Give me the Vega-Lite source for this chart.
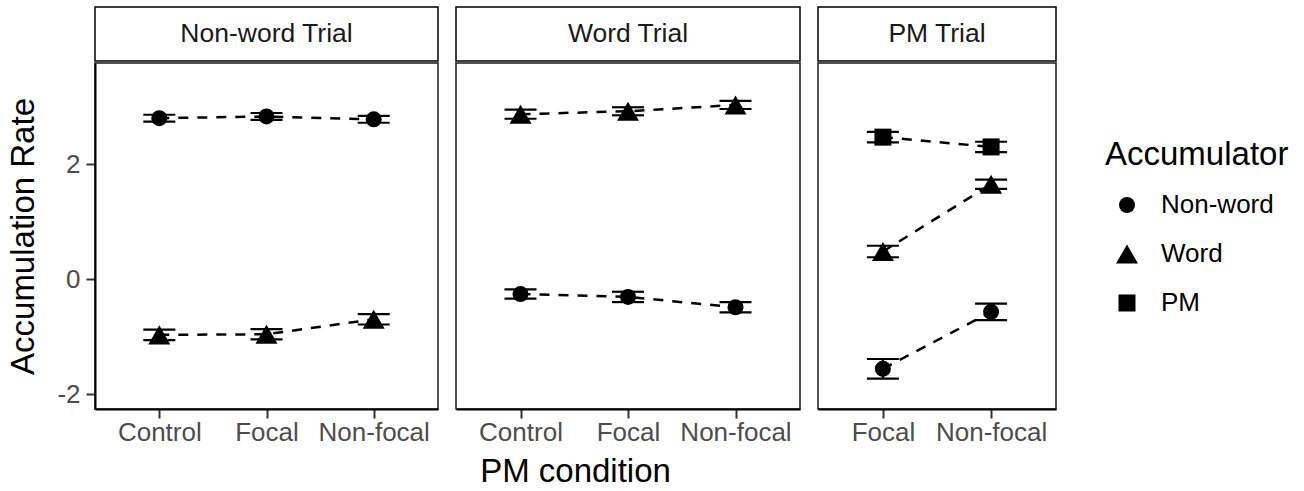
{
  "$schema": "https://vega.github.io/schema/vega-lite/v6.json",
  "padding": {"left": 7, "top": 6, "right": 5, "bottom": 5},
  "background": "white",
  "datasets": {
    "rates": [
      {"Trial": "Non-word Trial", "Condition": "Control", "Accumulator": "Non-word", "Rate": 2.80, "Err": 0.06},
      {"Trial": "Non-word Trial", "Condition": "Focal", "Accumulator": "Non-word", "Rate": 2.83, "Err": 0.06},
      {"Trial": "Non-word Trial", "Condition": "Non-focal", "Accumulator": "Non-word", "Rate": 2.78, "Err": 0.06},
      {"Trial": "Non-word Trial", "Condition": "Control", "Accumulator": "Word", "Rate": -0.97, "Err": 0.09},
      {"Trial": "Non-word Trial", "Condition": "Focal", "Accumulator": "Word", "Rate": -0.96, "Err": 0.09},
      {"Trial": "Non-word Trial", "Condition": "Non-focal", "Accumulator": "Word", "Rate": -0.70, "Err": 0.09},
      {"Trial": "Word Trial", "Condition": "Control", "Accumulator": "Word", "Rate": 2.87, "Err": 0.08},
      {"Trial": "Word Trial", "Condition": "Focal", "Accumulator": "Word", "Rate": 2.92, "Err": 0.07},
      {"Trial": "Word Trial", "Condition": "Non-focal", "Accumulator": "Word", "Rate": 3.03, "Err": 0.07},
      {"Trial": "Word Trial", "Condition": "Control", "Accumulator": "Non-word", "Rate": -0.26, "Err": 0.08},
      {"Trial": "Word Trial", "Condition": "Focal", "Accumulator": "Non-word", "Rate": -0.31, "Err": 0.09},
      {"Trial": "Word Trial", "Condition": "Non-focal", "Accumulator": "Non-word", "Rate": -0.49, "Err": 0.09},
      {"Trial": "PM Trial", "Condition": "Focal", "Accumulator": "PM", "Rate": 2.47, "Err": 0.09},
      {"Trial": "PM Trial", "Condition": "Non-focal", "Accumulator": "PM", "Rate": 2.30, "Err": 0.09},
      {"Trial": "PM Trial", "Condition": "Focal", "Accumulator": "Word", "Rate": 0.48, "Err": 0.10},
      {"Trial": "PM Trial", "Condition": "Non-focal", "Accumulator": "Word", "Rate": 1.65, "Err": 0.08},
      {"Trial": "PM Trial", "Condition": "Focal", "Accumulator": "Non-word", "Rate": -1.56, "Err": 0.17},
      {"Trial": "PM Trial", "Condition": "Non-focal", "Accumulator": "Non-word", "Rate": -0.57, "Err": 0.145}
    ],
    "trials": [
      {"Trial": "Non-word Trial"},
      {"Trial": "Word Trial"},
      {"Trial": "PM Trial"}
    ]
  },
  "hconcat": [
    {
      "spacing": 0,
      "vconcat": [
        {
          "width": 343, "height": 54,
          "data": {"name": "trials"},
          "transform": [{"filter": "datum.Trial === 'Non-word Trial'"}],
          "layer": [
            {"mark": {"type": "rect", "fill": "white", "stroke": "black", "strokeWidth": 1.5}, "encoding": {}},
            {"mark": {"type": "text", "fontSize": 26.5, "color": "#1a1a1a"}, "encoding": {"text": {"field": "Trial", "type": "nominal"}}}
          ]
        },
        {
          "width": 343, "height": 346,
          "data": {"name": "rates"},
          "transform": [{"filter": "datum.Trial === 'Non-word Trial'"}],
          "encoding": {
            "x": {"field": "Condition", "type": "nominal", "scale": {"type": "point", "padding": 0.6, "domain": ["Control", "Focal", "Non-focal"]}, "title": null},
            "y": {"field": "Rate", "type": "quantitative", "scale": {"domain": [-2.26, 3.76], "nice": false, "zero": false}, "title": "Accumulation Rate", "axis": {"values": [-2, 0, 2], "labelExpr": "toString(datum.value)", "titlePadding": 16}}
          },
          "layer": [
            {"mark": {"type": "line", "color": "black", "strokeWidth": 2.5, "strokeDash": [10, 9]}, "encoding": {"detail": {"field": "Accumulator", "type": "nominal"}}},
            {"mark": {"type": "errorbar", "color": "black", "ticks": {"opacity": 1, "color": "black"}, "size": 32, "thickness": 2.2, "rule": {"strokeWidth": 2.2}}, "encoding": {"yError": {"field": "Err"}, "detail": {"field": "Accumulator", "type": "nominal"}}},
            {"mark": {"type": "point", "filled": true, "color": "black", "opacity": 1, "strokeWidth": 0},
             "encoding": {
               "shape": {"field": "Accumulator", "type": "nominal", "scale": {"domain": ["Non-word", "Word", "PM"], "range": ["circle", "triangle-up", "square"]}, "title": "Accumulator"},
               "size": {"field": "Accumulator", "type": "nominal", "scale": {"type": "ordinal", "domain": ["Non-word", "Word", "PM"], "range": [256, 484, 289]}, "title": "Accumulator"}
             }}
          ]
        }
      ]
    },
    {
      "spacing": 0,
      "vconcat": [
        {
          "width": 344, "height": 54,
          "data": {"name": "trials"},
          "transform": [{"filter": "datum.Trial === 'Word Trial'"}],
          "layer": [
            {"mark": {"type": "rect", "fill": "white", "stroke": "black", "strokeWidth": 1.5}, "encoding": {}},
            {"mark": {"type": "text", "fontSize": 26.5, "color": "#1a1a1a"}, "encoding": {"text": {"field": "Trial", "type": "nominal"}}}
          ]
        },
        {
          "width": 344, "height": 346,
          "data": {"name": "rates"},
          "transform": [{"filter": "datum.Trial === 'Word Trial'"}],
          "encoding": {
            "x": {"field": "Condition", "type": "nominal", "scale": {"type": "point", "padding": 0.6, "domain": ["Control", "Focal", "Non-focal"]}, "title": "PM condition", "axis": {"titleX": 119, "titleAnchor": "middle", "titlePadding": 10}},
            "y": {"field": "Rate", "type": "quantitative", "scale": {"domain": [-2.26, 3.76], "nice": false, "zero": false}, "axis": null}
          },
          "layer": [
            {"mark": {"type": "line", "color": "black", "strokeWidth": 2.5, "strokeDash": [10, 9]}, "encoding": {"detail": {"field": "Accumulator", "type": "nominal"}}},
            {"mark": {"type": "errorbar", "color": "black", "ticks": {"opacity": 1, "color": "black"}, "size": 32, "thickness": 2.2, "rule": {"strokeWidth": 2.2}}, "encoding": {"yError": {"field": "Err"}, "detail": {"field": "Accumulator", "type": "nominal"}}},
            {"mark": {"type": "point", "filled": true, "color": "black", "opacity": 1, "strokeWidth": 0},
             "encoding": {
               "shape": {"field": "Accumulator", "type": "nominal", "scale": {"domain": ["Non-word", "Word", "PM"], "range": ["circle", "triangle-up", "square"]}, "title": "Accumulator"},
               "size": {"field": "Accumulator", "type": "nominal", "scale": {"type": "ordinal", "domain": ["Non-word", "Word", "PM"], "range": [256, 484, 289]}, "title": "Accumulator"}
             }}
          ]
        }
      ]
    },
    {
      "spacing": 0,
      "vconcat": [
        {
          "width": 238, "height": 54,
          "data": {"name": "trials"},
          "transform": [{"filter": "datum.Trial === 'PM Trial'"}],
          "layer": [
            {"mark": {"type": "rect", "fill": "white", "stroke": "black", "strokeWidth": 1.5}, "encoding": {}},
            {"mark": {"type": "text", "fontSize": 26.5, "color": "#1a1a1a"}, "encoding": {"text": {"field": "Trial", "type": "nominal"}}}
          ]
        },
        {
          "width": 238, "height": 346,
          "data": {"name": "rates"},
          "transform": [{"filter": "datum.Trial === 'PM Trial'"}],
          "encoding": {
            "x": {"field": "Condition", "type": "nominal", "scale": {"type": "point", "padding": 0.6, "domain": ["Focal", "Non-focal"]}, "title": null},
            "y": {"field": "Rate", "type": "quantitative", "scale": {"domain": [-2.26, 3.76], "nice": false, "zero": false}, "axis": null}
          },
          "layer": [
            {"mark": {"type": "line", "color": "black", "strokeWidth": 2.5, "strokeDash": [10, 9]}, "encoding": {"detail": {"field": "Accumulator", "type": "nominal"}}},
            {"mark": {"type": "errorbar", "color": "black", "ticks": {"opacity": 1, "color": "black"}, "size": 32, "thickness": 2.2, "rule": {"strokeWidth": 2.2}}, "encoding": {"yError": {"field": "Err"}, "detail": {"field": "Accumulator", "type": "nominal"}}},
            {"mark": {"type": "point", "filled": true, "color": "black", "opacity": 1, "strokeWidth": 0},
             "encoding": {
               "shape": {"field": "Accumulator", "type": "nominal", "scale": {"domain": ["Non-word", "Word", "PM"], "range": ["circle", "triangle-up", "square"]}, "title": "Accumulator", "legend": {"orient": "none", "legendX": 1010, "legendY": 132}},
               "size": {"field": "Accumulator", "type": "nominal", "scale": {"type": "ordinal", "domain": ["Non-word", "Word", "PM"], "range": [256, 484, 289]}, "title": "Accumulator", "legend": {"orient": "none", "legendX": 1010, "legendY": 132}}
             }}
          ]
        }
      ]
    }
  ],
  "spacing": 16,
  "config": {
    "font": "Liberation Sans",
    "view": {"stroke": "#1a1a1a", "strokeWidth": 1.5},
    "axis": {"grid": false, "domainColor": "black", "domainWidth": 2, "tickColor": "#333333", "tickWidth": 2, "tickSize": 9, "labelFontSize": 26, "labelColor": "#4d4d4d", "labelAngle": 0, "titleFontSize": 33, "titleColor": "black", "titleFontWeight": "normal", "labelPadding": 1},
    "axisY": {"labelPadding": 6},
    "legend": {"titleFontSize": 33, "titleFontWeight": "normal", "titleColor": "black", "titleLimit": 400, "labelFontSize": 26, "labelColor": "black", "labelLimit": 300, "symbolFillColor": "black", "symbolStrokeWidth": 0, "rowPadding": 23, "titlePadding": 20, "labelOffset": 21, "symbolOffset": 9}
  }
}
